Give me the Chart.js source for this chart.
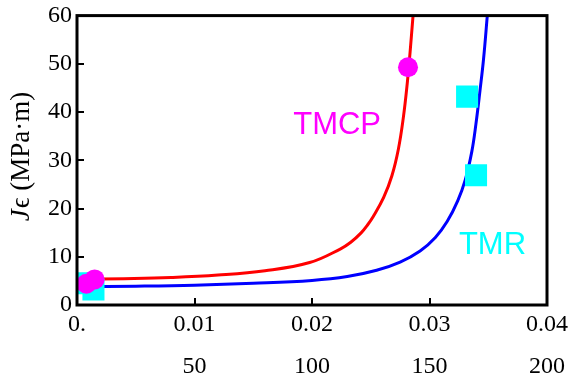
<!DOCTYPE html>
<html>
<head>
<meta charset="utf-8">
<script src="https://cdn.jsdelivr.net/npm/chart.js@4/dist/chart.umd.min.js"></script>
<style>
html,body{margin:0;padding:0;background:#fff;}
#wrap{width:569px;height:380px;}
</style>
</head>
<body>
<div id="wrap"><canvas id="c" width="569" height="380"></canvas></div>
<script>
// ---- data ----
const xTicks = [0, 0.01, 0.02, 0.03, 0.04];
const xTickLabels = ["0.", "0.01", "0.02", "0.03", "0.04"];
const yTicks = [0, 10, 20, 30, 40, 50, 60];
const x2Ticks = [0, 50, 100, 150, 200];
const x2TickLabels = ["", "50", "100", "150", "200"];

const tmcpCurveX = [0, 0.004, 0.008, 0.012, 0.016, 0.0198, 0.0224, 0.0233, 0.0242, 0.0247, 0.0252, 0.0261, 0.0268, 0.02735, 0.02777, 0.0281, 0.02835, 0.0286];
const tmcpCurveY = [5.3, 5.45, 5.7, 6.2, 7.1, 8.8, 11.6, 13.0, 15.0, 16.5, 18.3, 22.3, 26.8, 32.3, 38.8, 45.8, 52.5, 60];

const tmrCurveX = [0, 0.005, 0.010, 0.015, 0.020, 0.023, 0.0255, 0.0275, 0.0292, 0.0305, 0.0315, 0.0324, 0.03305, 0.0336, 0.03395, 0.0343, 0.0346, 0.03492];
const tmrCurveY = [3.8, 3.9, 4.1, 4.5, 5.1, 5.9, 7.2, 8.9, 11.2, 14.0, 17.3, 21.6, 26.0, 31.8, 37.5, 44.5, 51, 60];

const tmcpPointsX = [0.0008, 0.0015, 0.02817];
const tmcpPointsY = [4.4, 5.3, 49.3];

const tmrPointsX = [0.0009, 0.0014, 0.0332, 0.03396];
const tmrPointsY = [4.5, 3.2, 43.2, 26.9];

const seriesNames = ["TMCP", "TMR"];

function toXY(xs, ys){ return xs.map((x,i)=>({x:x, y:ys[i]})); }

const serif = "'Liberation Serif','Times New Roman',serif";
const sans = "'Liberation Sans',Arial,sans-serif";

const framePlugin = {
  id: 'frame',
  afterDatasetsDraw(chart){
    const ctx = chart.ctx, a = chart.chartArea;
    const xs = chart.scales.x, ys = chart.scales.y;
    ctx.save();
    // series text labels placed in data coordinates
    ctx.font = "31px " + sans;
    ctx.textBaseline = 'alphabetic';
    ctx.textAlign = 'left';
    ctx.fillStyle = '#ff00ff';
    ctx.fillText(seriesNames[0], xs.getPixelForValue(0.0184), ys.getPixelForValue(35.5));
    ctx.fillStyle = '#00ffff';
    ctx.fillText(seriesNames[1], xs.getPixelForValue(0.0325), ys.getPixelForValue(10.5));
    // frame
    ctx.strokeStyle = '#000';
    ctx.lineWidth = 3;
    ctx.strokeRect(a.left, a.top, a.right - a.left, a.bottom - a.top);
    // inward ticks on left and bottom
    ctx.lineWidth = 2;
    ctx.beginPath();
    xTicks.forEach(v=>{
      const p = Math.round(xs.getPixelForValue(v));
      ctx.moveTo(p, a.bottom); ctx.lineTo(p, a.bottom - 7);
    });
    yTicks.forEach(v=>{
      const p = Math.round(ys.getPixelForValue(v));
      ctx.moveTo(a.left, p); ctx.lineTo(a.left + 7, p);
    });
    ctx.stroke();
    // y axis title: italic J + epsilon (MPa·m)
    ctx.translate(22, 157);
    ctx.rotate(-Math.PI/2);
    ctx.fillStyle = '#000';
    ctx.textBaseline = 'middle';
    const f1 = "italic 27px " + serif, f2 = "27px " + serif;
    ctx.font = f1; const w1 = ctx.measureText("J").width;
    ctx.font = f2; const t2 = "\u03F5 (MPa\u00B7m)"; const w2 = ctx.measureText(t2).width;
    let sx = -(w1 + w2)/2;
    ctx.font = f1; ctx.textAlign = 'left'; ctx.fillText("J", sx, 0);
    ctx.font = f2; ctx.fillText(t2, sx + w1 + 1, 0);
    ctx.restore();
  }
};

function noHPad(s){ s.paddingLeft = 0; s.paddingRight = 0; }

new Chart(document.getElementById('c'), {
  type: 'line',
  data: {
    datasets: [
      { label: 'TMCP points', type: 'scatter', data: toXY(tmcpPointsX, tmcpPointsY),
        pointStyle: 'circle', pointRadius: 10, pointHoverRadius: 10, borderWidth: 0,
        backgroundColor: '#ff00ff', borderColor: '#ff00ff', order: 0 },
      { label: 'TMR points', type: 'scatter', data: toXY(tmrPointsX, tmrPointsY),
        pointStyle: 'rect', pointRadius: 15.6, pointHoverRadius: 15.6, borderWidth: 0,
        backgroundColor: '#00ffff', borderColor: '#00ffff', order: 1 },
      { label: 'TMCP curve', data: toXY(tmcpCurveX, tmcpCurveY), borderColor: '#ff0000',
        borderWidth: 3, pointRadius: 0, fill: false, tension: 0.4, order: 2 },
      { label: 'TMR curve', data: toXY(tmrCurveX, tmrCurveY), borderColor: '#0000ff',
        borderWidth: 3, pointRadius: 0, fill: false, tension: 0.4, order: 3 }
    ]
  },
  options: {
    responsive: false,
    animation: false,
    devicePixelRatio: 1,
    layout: { padding: { top: 14, right: 22, left: 0, bottom: 0 } },
    plugins: { legend: { display: false }, tooltip: { enabled: false } },
    scales: {
      x: {
        type: 'linear', position: 'bottom', min: 0, max: 0.04,
        afterBuildTicks: s => { s.ticks = xTicks.map(v=>({value:v})); },
        afterFit: s => { s.height = 36; noHPad(s); },
        grid: { display: false, drawTicks: false },
        border: { display: false },
        ticks: { color: '#000', padding: 5, maxRotation: 0, autoSkip: false,
          font: { family: serif, size: 24 },
          callback: (v) => { const i = xTicks.indexOf(v); return i >= 0 ? xTickLabels[i] : ''; } }
      },
      x2: {
        type: 'linear', position: 'bottom', min: 0, max: 200,
        afterBuildTicks: s => { s.ticks = x2Ticks.map(v=>({value:v})); },
        afterFit: s => { s.height = 39; noHPad(s); },
        grid: { display: false, drawTicks: false },
        border: { display: false },
        ticks: { color: '#000', padding: 11, maxRotation: 0, autoSkip: false,
          font: { family: serif, size: 24 },
          callback: (v) => { const i = x2Ticks.indexOf(v); return i >= 0 ? x2TickLabels[i] : ''; } }
      },
      y: {
        type: 'linear', min: 0, max: 60,
        afterBuildTicks: s => { s.ticks = yTicks.map(v=>({value:v})); },
        afterFit: s => { s.width = 77; s.paddingTop = 0; s.paddingBottom = 0; },
        grid: { display: false, drawTicks: false },
        border: { display: false },
        ticks: { color: '#000', padding: 5, autoSkip: false,
          font: { family: serif, size: 24 } }
      }
    }
  },
  plugins: [framePlugin]
});
</script>
</body>
</html>
